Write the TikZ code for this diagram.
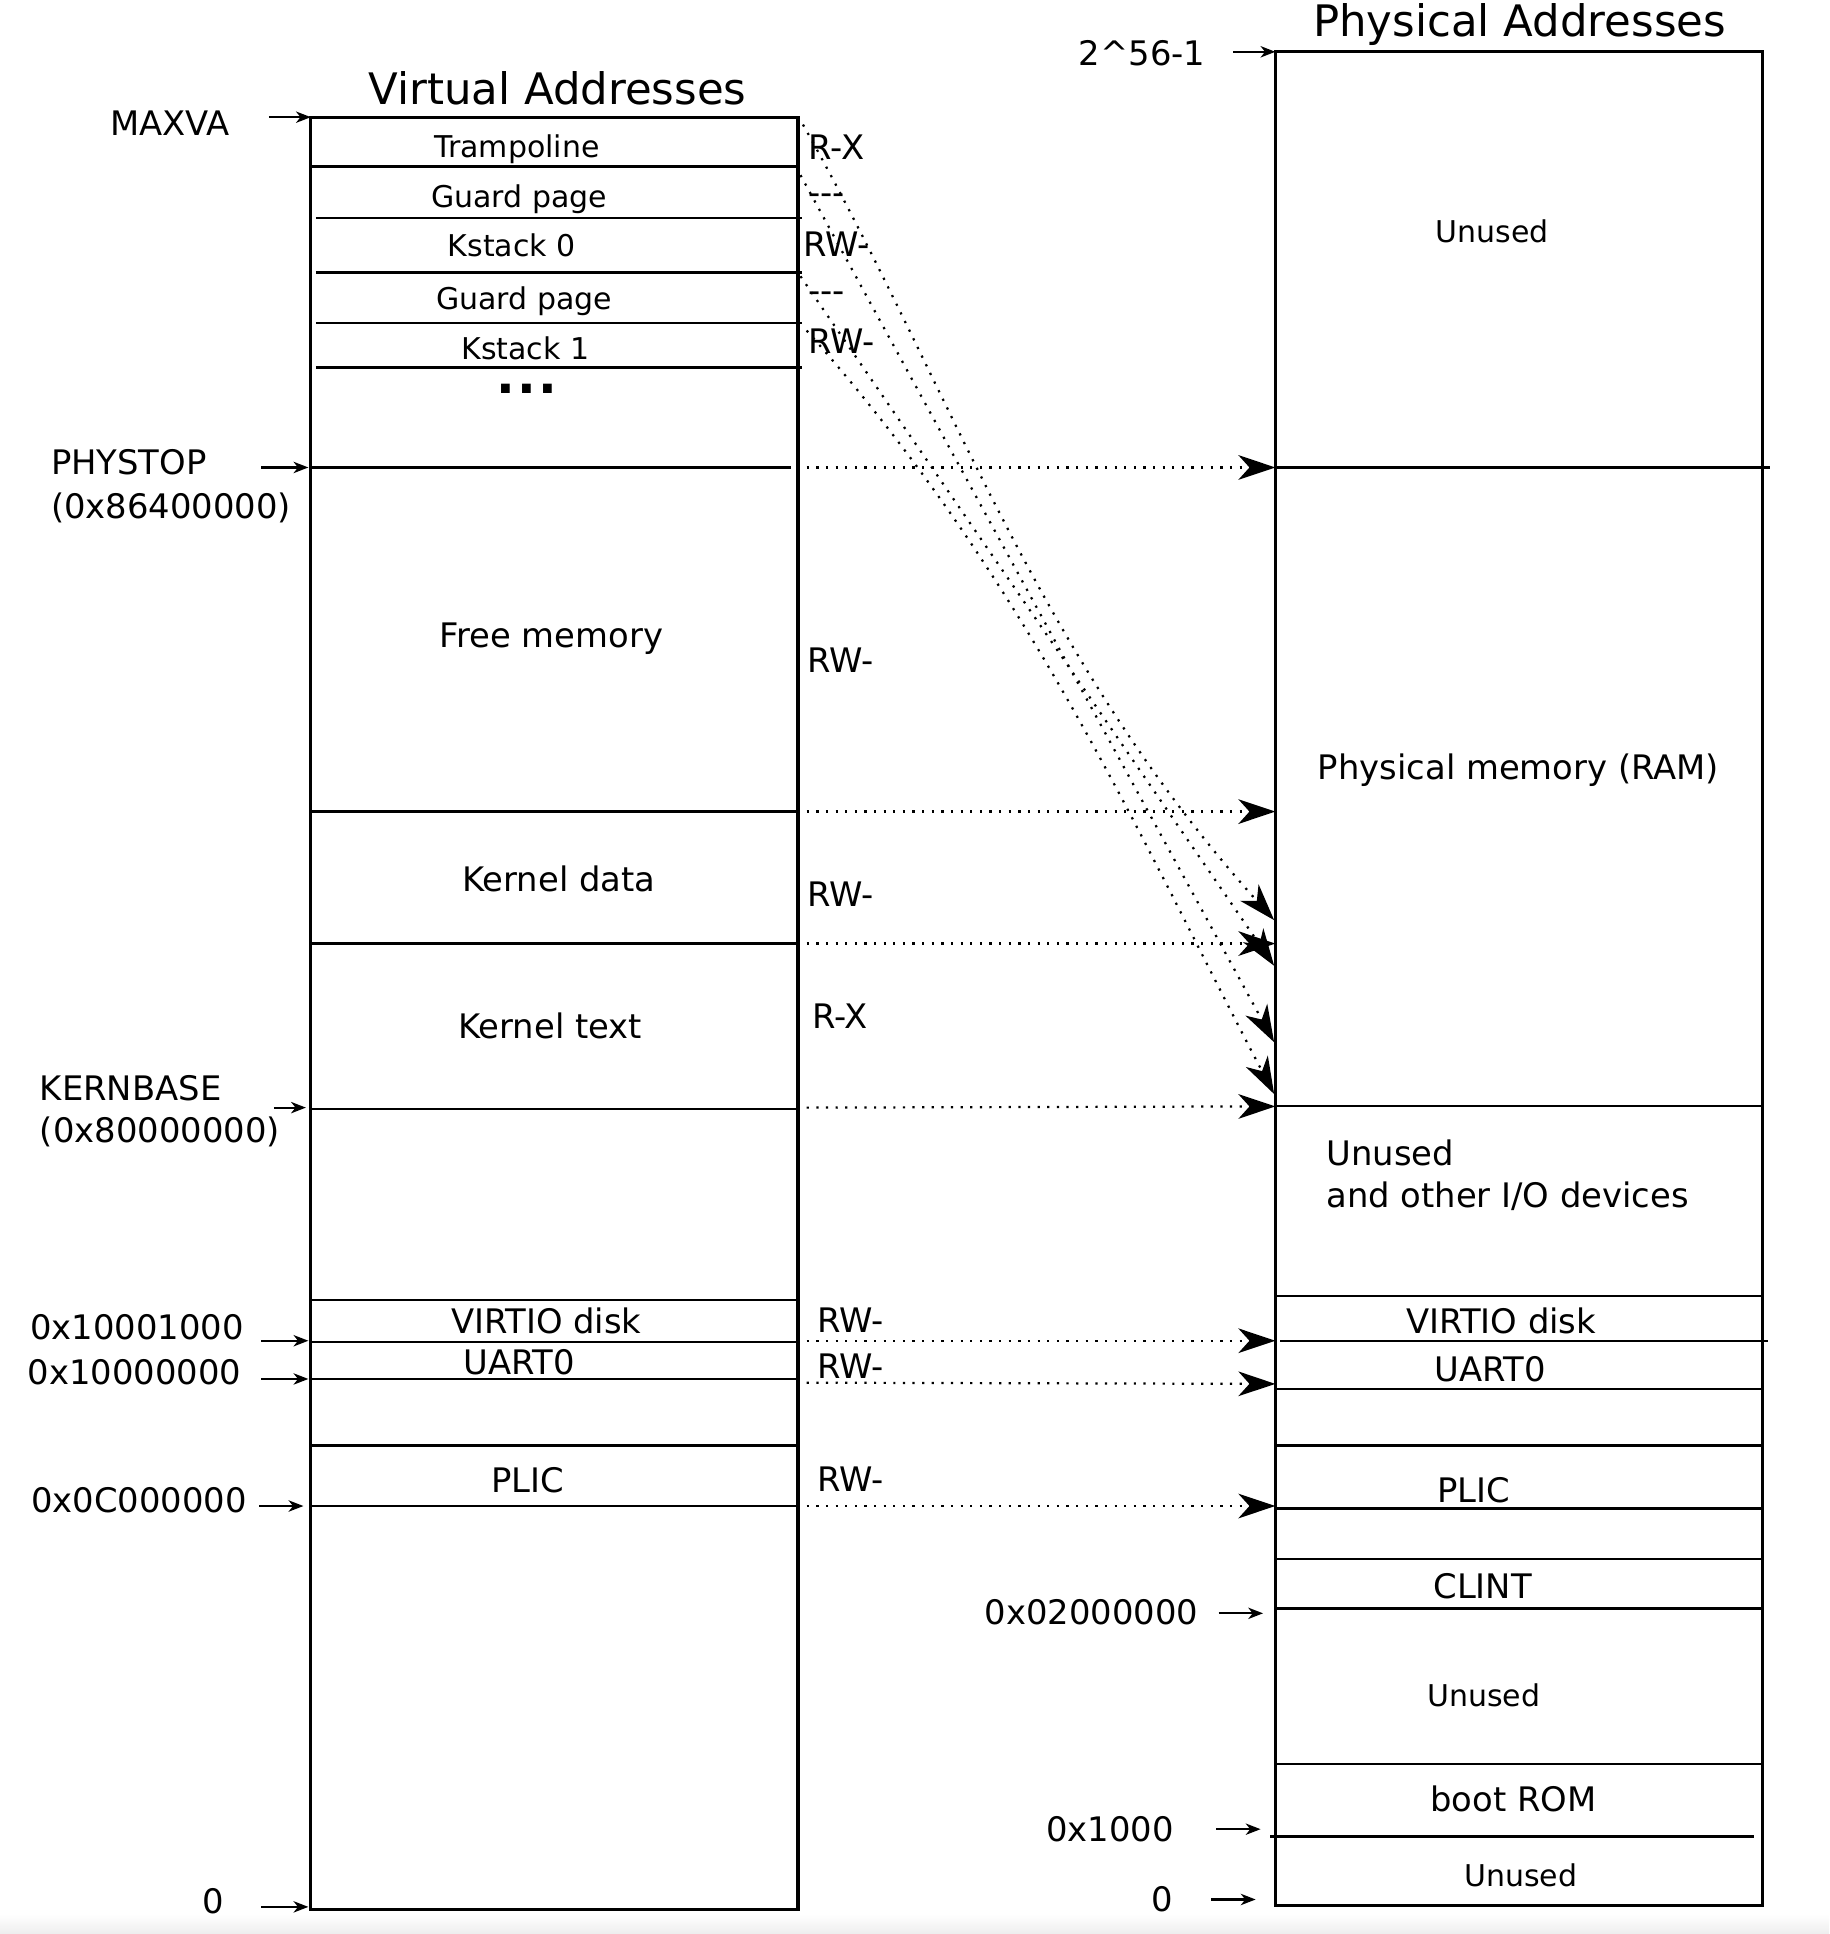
\documentclass[tikz,border=0pt]{standalone}
\usepackage{fontspec}
\setmainfont{DejaVu Sans}
\usetikzlibrary{arrows.meta}
\begin{document}
\begin{tikzpicture}[x=0.5pt,y=-0.5pt,
  box/.style={line width=1.3pt},
  sep/.style={line width=0.9pt},
  lbl/.style={inner sep=0pt, text height=10pt, text depth=0pt, font=\fontsize{13.7}{16}\selectfont},
  slbl/.style={inner sep=0pt, text height=8.86pt, text depth=0pt, font=\fontsize{12.15}{14}\selectfont},
  ttl/.style={inner sep=0pt, text height=12.8pt, text depth=0pt, font=\fontsize{17.6}{20}\selectfont},
  ptr/.style={line width=0.85pt, -{Stealth[length=6pt,width=4.6pt,inset=1.8pt]}},
  map/.style={line width=0.9pt, dash pattern=on 0.9pt off 3pt,
              -{Stealth[length=15pt,width=10pt,inset=4.5pt]}}]
\useasboundingbox (0,0) rectangle (1483,1568);
\shade[top color=white, bottom color=black!7] (0,1552) rectangle (1483,1568);

% ---------------- Virtual address space ----------------
\node[ttl] (vtitle) at (452,72) {Virtual Addresses};
\draw[box] (252,95) rectangle (647,1548);
\draw[sep] (252,135) -- (647,135);
\draw[sep] (256,177) -- (650,177);
\draw[sep] (256,221) -- (650,221);
\draw[sep] (256,262) -- (650,262);
\draw[sep] (256,298) -- (650,298);
\draw[sep] (252,379) -- (641,379);
\draw[sep] (252,658) -- (647,658);
\draw[sep] (252,765) -- (647,765);
\draw[sep] (252,899) -- (647,899);
\draw[sep] (252,1054) -- (647,1054);
\draw[sep] (252,1088) -- (647,1088);
\draw[sep] (252,1118) -- (647,1118);
\draw[sep] (252,1172) -- (647,1172);
\draw[sep] (252,1221) -- (647,1221);

\node[slbl] (tramp) at (419,119) {Trampoline};
\node[slbl] (guard0) at (421,159) {Guard page};
\node[slbl] (kst0) at (415,199) {Kstack 0};
\node[slbl] (guard1) at (425,242) {Guard page};
\node[slbl] (kst1) at (426,283) {Kstack 1};
\node[inner sep=0pt, text height=3pt, text depth=0pt, anchor=base,
      font=\bfseries\fontsize{20}{22}\selectfont] (dots) at (427,319) {.\kern1pt.\kern1pt.};
\node[lbl] (free) at (447,515) {Free memory};
\node[lbl] (kdata) at (453,713) {Kernel data};
\node[lbl] (ktext) at (446,832) {Kernel text};
\node[lbl] (vvirtio) at (443,1071) {VIRTIO disk};
\node[lbl] (vuart) at (421,1104) {UART0};
\node[lbl] (vplic) at (428,1200) {PLIC};

% permissions
\node[lbl, anchor=west] (p1) at (655,119) {R-X};
\node[lbl, anchor=west] (p2) at (655,156) {-{}-{}-};
\node[lbl, anchor=west] (p3) at (651,198) {RW-};
\node[lbl, anchor=west] (p4) at (655,235) {-{}-{}-};
\node[lbl, anchor=west] (p5) at (655,277) {RW-};
\node[lbl, anchor=west] (p6) at (654,535) {RW-};
\node[lbl, anchor=west] (p7) at (654,725) {RW-};
\node[lbl, anchor=west] (p8) at (658,824) {R-X};
\node[lbl, anchor=west] (p9) at (662,1070) {RW-};
\node[lbl, anchor=west] (p10) at (662,1108) {RW-};
\node[lbl, anchor=west] (p11) at (662,1199) {RW-};

% left address labels
\node[lbl] (maxva) at (138,100) {MAXVA};
\node[lbl, anchor=west] (phystop) at (41,375) {PHYSTOP};
\node[lbl, anchor=west] (phystopv) at (41,410) {(0x86400000)};
\node[lbl, anchor=west] (kbase) at (32,882) {KERNBASE};
\node[lbl, anchor=west] (kbasev) at (32,916) {(0x80000000)};
\node[lbl, anchor=west] (a1) at (24,1076) {0x10001000};
\node[lbl, anchor=west] (a2) at (22,1112.5) {0x10000000};
\node[lbl, anchor=west] (a3) at (25,1216) {0x0C000000};
\node[lbl] (a4) at (173,1541) {0};

\coordinate (m0) at (218,95);   \coordinate (m1) at (252,95);
\coordinate (s0) at (212,379);  \coordinate (s1) at (250,379);
\coordinate (k0) at (222,898);  \coordinate (k1) at (248,898);
\coordinate (b0) at (212,1087); \coordinate (b1) at (250,1087);
\coordinate (c0) at (212,1118); \coordinate (c1) at (250,1118);
\coordinate (d0) at (210,1221); \coordinate (d1) at (246,1221);
\coordinate (e0) at (212,1546); \coordinate (e1) at (250,1546);
\draw[ptr] (m0) -- (m1);
\draw[ptr] (s0) -- (s1);
\draw[ptr] (k0) -- (k1);
\draw[ptr] (b0) -- (b1);
\draw[ptr] (c0) -- (c1);
\draw[ptr] (d0) -- (d1);
\draw[ptr] (e0) -- (e1);

% ---------------- Physical address space ----------------
\node[ttl] (ptitle) at (1232,17) {Physical Addresses};
\draw[box] (1034,42) rectangle (1429,1545);
\draw[sep] (1034,379) -- (1435,379);
\draw[sep] (1034,897) -- (1429,897);
\draw[sep] (1034,1051) -- (1429,1051);
\draw[sep] (1038,1087) -- (1433,1087);
\draw[sep] (1034,1126) -- (1429,1126);
\draw[sep] (1034,1172) -- (1429,1172);
\draw[sep] (1034,1223) -- (1429,1223);
\draw[sep] (1034,1264) -- (1429,1264);
\draw[sep] (1034,1304) -- (1429,1304);
\draw[sep] (1034,1430) -- (1429,1430);
\draw[sep] (1030,1489) -- (1422,1489);

\node[slbl] (unused1) at (1210,188) {Unused};
\node[lbl] (ram) at (1231,622) {Physical memory (RAM)};
\node[lbl, anchor=west] (unused2) at (1075,935) {Unused};
\node[lbl, anchor=west] (other) at (1075,969) {and other I/O devices};
\node[lbl] (pvirtio) at (1217,1071) {VIRTIO disk};
\node[lbl] (puart) at (1208,1110) {UART0};
\node[lbl] (pplic) at (1195,1208) {PLIC};
\node[lbl] (clint) at (1202,1286) {CLINT};
\node[slbl] (unused3) at (1203,1375) {Unused};
\node[lbl] (bootrom) at (1227,1459) {boot ROM};
\node[slbl] (unused4) at (1233,1521) {Unused};

\node[lbl] (top) at (926,43) {2\textasciicircum 56-1};
\node[lbl] (clintv) at (885,1307) {0x02000000};
\node[lbl] (romv) at (900,1483) {0x1000};
\node[lbl] (zero) at (942,1540) {0};

\coordinate (t0) at (1000,42);  \coordinate (t1) at (1034,42);
\coordinate (n0) at (988,1308); \coordinate (n1) at (1024,1308);
\coordinate (r0) at (986,1483); \coordinate (r1) at (1022,1483);
\coordinate (z0) at (982,1540); \coordinate (z1) at (1018,1540);
\draw[ptr] (t0) -- (t1);
\draw[ptr] (n0) -- (n1);
\draw[ptr] (r0) -- (r1);
\draw[ptr] (z0) -- (z1);

% ---------------- mappings ----------------
\coordinate (hv1) at (654,379);  \coordinate (hp1) at (1034,379);
\coordinate (hv2) at (654,658);  \coordinate (hp2) at (1034,658);
\coordinate (hv3) at (654,765);  \coordinate (hp3) at (1034,765);
\coordinate (hv4) at (654,898);  \coordinate (hp4) at (1034,897);
\coordinate (hv5) at (654,1087); \coordinate (hp5) at (1034,1087);
\coordinate (hv6) at (654,1121); \coordinate (hp6) at (1034,1122);
\coordinate (hv7) at (654,1221); \coordinate (hp7) at (1034,1221);
\draw[map] (hv1) -- (hp1);
\draw[map] (hv2) -- (hp2);
\draw[map] (hv3) -- (hp3);
\draw[map] (hv4) -- (hp4);
\draw[map] (hv5) -- (hp5);
\draw[map] (hv6) -- (hp6);
\draw[map] (hv7) -- (hp7);

\coordinate (dv1) at (651,101); \coordinate (dp1) at (1033,746);
\coordinate (dv2) at (649,142); \coordinate (dp2) at (1033,845);
\coordinate (dv3) at (649,224); \coordinate (dp3) at (1033,783);
\coordinate (dv4) at (654,268); \coordinate (dp4) at (1033,887);
\draw[map] (dv1) .. controls (772,316) and (840,531) .. (dp1);
\draw[map] (dv2) -- (dp2);
\draw[map] (dv3) -- (dp3);
\draw[map] (dv4) .. controls (836,473) and (925,682) .. (dp4);
\end{tikzpicture}
\end{document}
